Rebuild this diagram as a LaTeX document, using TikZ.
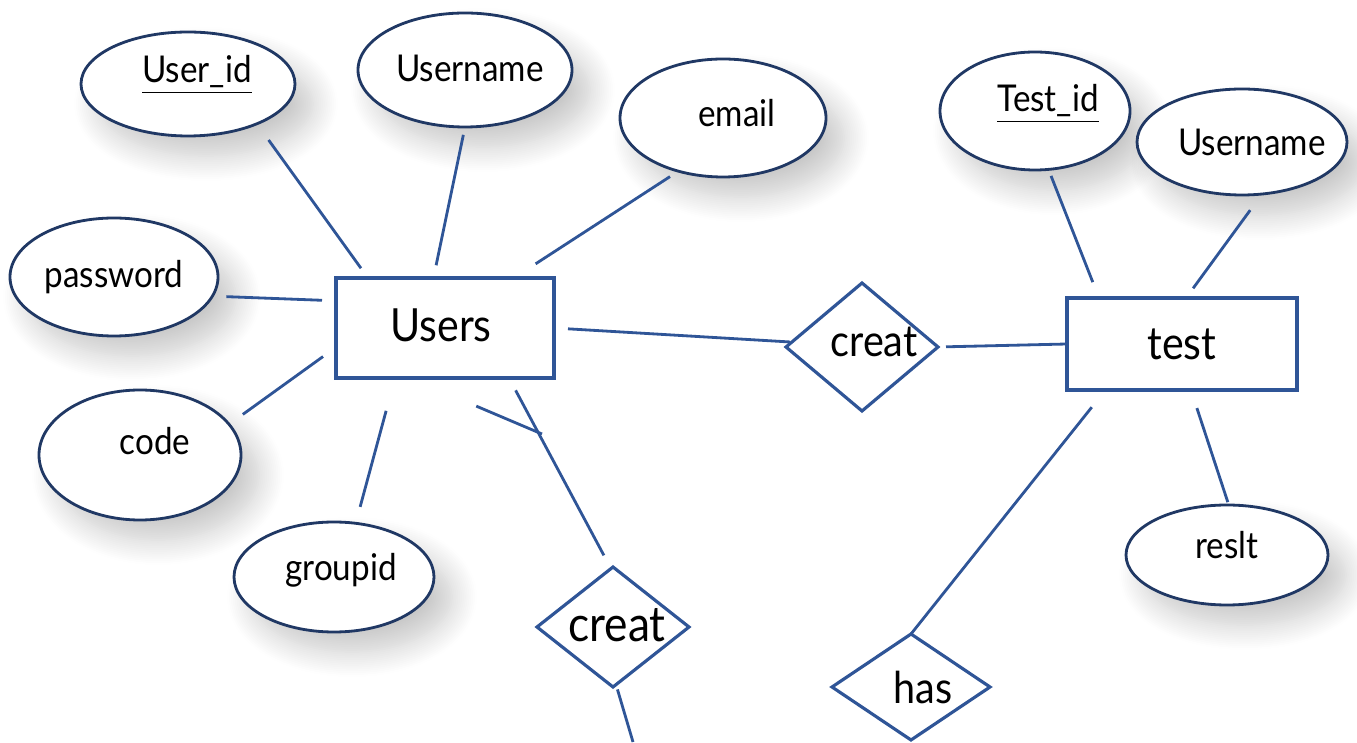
\documentclass[tikz,border=0pt]{standalone}
\usepackage{fontspec}
\setmainfont{Lato}[FakeStretch=0.9]
\usepackage{tikz}
\usetikzlibrary{shapes,shadows,shadows.blur}

\definecolor{navy}{RGB}{32,56,100}
\definecolor{lineblue}{RGB}{47,85,151}

\begin{document}
\begin{tikzpicture}[
    attr/.style={ellipse, draw=navy, line width=0.8pt, fill=white, outer sep=0pt, inner sep=0pt,
      blur shadow={shadow xshift=1.8mm, shadow yshift=-2mm, shadow blur radius=2.5mm, shadow blur steps=14, shadow opacity=22}},
    entity/.style={rectangle, draw=lineblue, line width=0.9pt, outer sep=0pt, inner sep=0pt},
    rel/.style={diamond, draw=lineblue, line width=0.9pt, outer sep=0pt, inner sep=0pt},
    atxt/.style={font=\fontsize{10.5}{12}\selectfont},
    etxt/.style={font=\fontsize{13}{15}\selectfont},
    rtxt/.style={font=\fontsize{12.5}{14}\selectfont},
    conn/.style={draw=lineblue, line width=0.8pt}
  ]
  \useasboundingbox (0,0) rectangle (13.57,7.42);

  % Users and its attributes
  \node[entity, minimum width=2.18cm, minimum height=1cm,
    label={[etxt, shift={(-0.04,0.03)}]center:Users}] (users) at (4.45,4.14) {};
  \node[attr, minimum width=2.14cm, minimum height=1.04cm,
    label={[atxt, shift={(0.09,0.09)}]center:\underline{User\_id}}] (uid) at (1.88,6.58) {};
  \node[attr, minimum width=2.14cm, minimum height=1.14cm,
    label={[atxt, shift={(0.05,0.02)}]center:Username}] (uname) at (4.65,6.72) {};
  \node[attr, minimum width=2.06cm, minimum height=1.18cm,
    label={[atxt, shift={(0.14,0.05)}]center:email}] (email) at (7.23,6.24) {};
  \node[attr, minimum width=2.08cm, minimum height=1.18cm,
    label={[atxt, shift={(0,0)}]center:password}] (pwd) at (1.14,4.65) {};
  \node[attr, minimum width=2.02cm, minimum height=1.30cm,
    label={[atxt, shift={(0.15,0.14)}]center:code}] (code) at (1.40,2.87) {};
  \node[attr, minimum width=2.00cm, minimum height=1.10cm,
    label={[atxt, shift={(0.07,0.07)}]center:groupid}] (gid) at (3.34,1.65) {};

  % test and its attributes
  \node[entity, minimum width=2.30cm, minimum height=0.92cm,
    label={[etxt, shift={(0,0)}]center:test}] (test) at (11.82,3.98) {};
  \node[attr, minimum width=1.90cm, minimum height=1.18cm,
    label={[atxt, shift={(0.13,0.07)}]center:\underline{Test\_id}}] (tid) at (10.35,6.31) {};
  \node[attr, minimum width=2.10cm, minimum height=1.06cm,
    label={[atxt, shift={(0.10,0)}]center:Username}] (uname2) at (12.42,6.00) {};
  \node[attr, minimum width=2.02cm, minimum height=1.00cm,
    label={[atxt, shift={(0,0.10)}]center:reslt}] (reslt) at (12.27,1.87) {};

  % relations
  \node[rel, minimum width=1.52cm, minimum height=1.28cm,
    label={[rtxt, shift={(0.12,0.05)}]center:creat}] (creatA) at (8.62,3.95) {};
  \node[rel, minimum width=1.52cm, minimum height=1.20cm,
    label={[shift={(0.04,0.02)}, font=\fontsize{14}{16}\selectfont]center:creat}] (creatB) at (6.13,1.15) {};
  \node[rel, minimum width=1.58cm, minimum height=1.06cm,
    label={[rtxt, shift={(0.12,0)}]center:has}] (has) at (9.11,0.55) {};

  % loose ends
  \coordinate (stray) at (5.42,3.08);
  \coordinate (cut) at (6.33,0);

  % connectors
  \draw[conn, shorten <=2mm, shorten >=1.2mm] (uid.-30) -- (users.147);
  \draw[conn, shorten <=0.8mm, shorten >=1.3mm] (uname.-90) -- (users.103);
  \draw[conn, shorten <=1mm, shorten >=2.6mm] (email.230) -- (users.36);
  \draw[conn, shorten <=1.4mm, shorten >=1.4mm] (pwd.-11) -- (users.166);
  \draw[conn, shorten <=1.7mm, shorten >=1.6mm] (code.19) -- (users.190);
  \draw[conn, shorten <=1.7mm, shorten >=3.4mm] (gid.68) -- (users.225);
  \draw[conn, shorten <=1.4mm, shorten >=0.2mm] (users.0) -- (creatA.176);
  \draw[conn, shorten <=0.8mm] (creatA.0) -- (test.180);
  \draw[conn, shorten <=1.4mm, shorten >=1.5mm] (users.-38) -- (creatB.92);
  \draw[conn, shorten <=7.2mm] (users.235) -- (stray);
  \draw[conn, shorten <=0.5mm] (creatB.-87) -- (cut);
  \draw[conn, shorten <=0.7mm, shorten >=1.7mm] (tid.-77) -- (test.151);
  \draw[conn, shorten <=2mm, shorten >=1.2mm] (uname2.-69) -- (test.85);
  \draw[conn, shorten <=1.9mm, shorten >=0.3mm] (test.-79) -- (reslt.88);
  \draw[conn, shorten <=2.2mm] (test.211) -- (has.90);
\end{tikzpicture}
\end{document}
